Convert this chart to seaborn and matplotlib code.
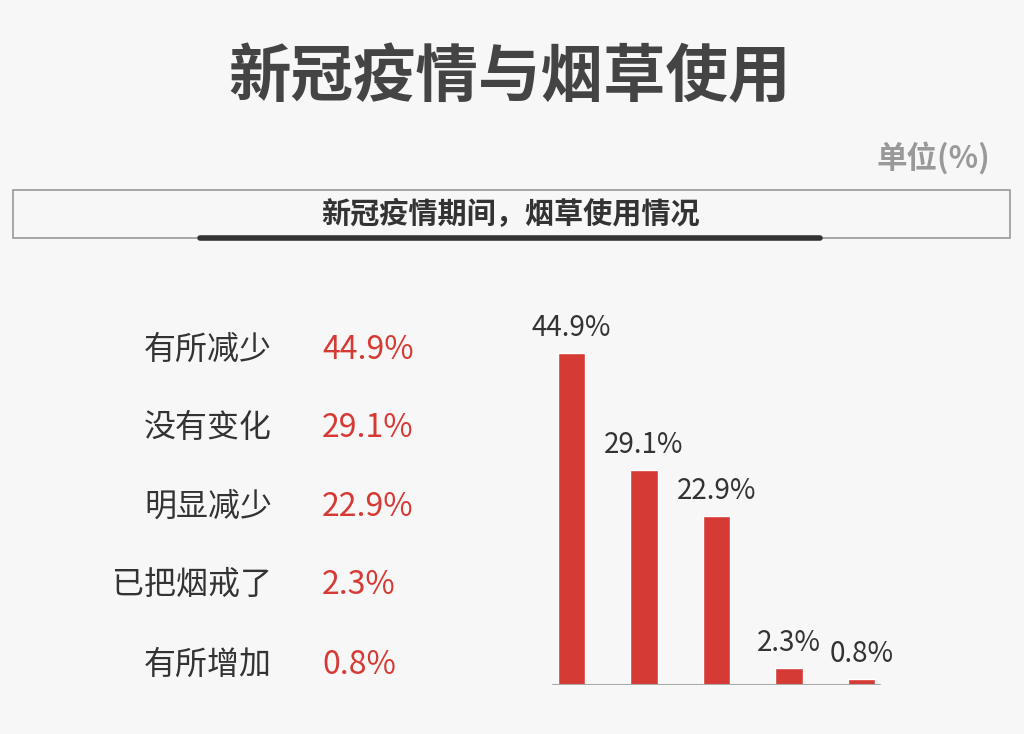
import matplotlib
matplotlib.use("Agg")
import matplotlib.pyplot as plt
import seaborn as sns
import pandas as pd

categories = ["有所减少", "没有变化", "明显减少", "已把烟戒了", "有所增加"]
values = [44.9, 29.1, 22.9, 2.3, 0.8]

sns.set_theme(style="white")
plt.rcParams["font.family"] = ["Noto Sans CJK SC", "DejaVu Sans"]

BG = "#f7f7f7"
RED = "#d63a35"
DARK = "#444444"

fig = plt.figure(figsize=(10.24, 7.34), dpi=100, facecolor=BG)
W, H = 1024, 734

def fx(x): return x / W
def fy(y): return 1 - y / H

fig.text(fx(510), fy(78), "新冠疫情与烟草使用", ha="center", va="center",
         fontsize=45, fontweight="bold", color=DARK)
fig.text(fx(990), fy(158), "单位(%)", ha="right", va="center",
         fontsize=22, fontweight="bold", color="#999999")

# header box
fig.patches.append(plt.Rectangle((fx(13), fy(238)), fx(997), 48 / H, transform=fig.transFigure,
                                 fill=False, edgecolor="#999999", linewidth=1.2))
fig.text(fx(511), fy(214), "新冠疫情期间，烟草使用情况", ha="center", va="center",
         fontsize=21, fontweight="bold", color="#333333")
fig.lines.append(plt.Line2D([fx(200), fx(820)], [fy(238), fy(238)], transform=fig.transFigure,
                            color="#333333", linewidth=4))

# left list
rows_y = [350, 428, 507, 585, 665]
for cat, val, y in zip(categories, values, rows_y):
    fig.text(fx(272), fy(y), cat, ha="right", va="center", fontsize=23, color="#333333")
    fig.text(fx(322), fy(y), f"{val}%", ha="left", va="center", fontsize=23, color=RED)

# bar chart
ax = fig.add_axes([fx(535), fy(685), fx(898 - 535), 370 / H])
ax.set_facecolor(BG)
df = pd.DataFrame({"cat": categories, "val": values})
sns.barplot(data=df, x="cat", y="val", color=RED, width=0.38, saturation=1, ax=ax)
ax.set_ylim(0, 50)
ax.set_xlim(-0.5, 4.5)
for i, v in enumerate(values):
    ax.text(i, v + 1.3, f"{v}%", ha="center", va="bottom", fontsize=20, color="#333333")
ax.axhline(0, xmin=0.05, xmax=0.95, color="#aaaaaa", linewidth=1.5)
ax.set_xticks([])
ax.set_yticks([])
ax.set_xlabel("")
ax.set_ylabel("")
for s in ax.spines.values():
    s.set_visible(False)

fig.savefig("out.png", dpi=100, facecolor=BG)
